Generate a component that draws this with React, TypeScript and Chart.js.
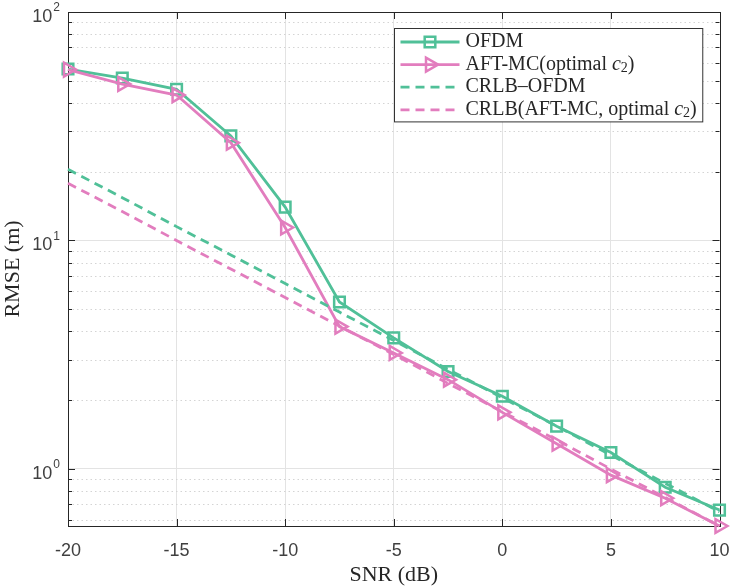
import { useEffect, useRef } from "react"
import Chart from "chart.js/auto"

// SNR (dB) sample points
const snr = [-20, -17.5, -15, -12.5, -10, -7.5, -5, -2.5, 0, 2.5, 5, 7.5, 10]

// RMSE (m)
const ofdm = [56.3, 51.4, 45.9, 28.7, 14.0, 5.38, 3.75, 2.67, 2.08, 1.54, 1.18, 0.832, 0.661]
const aftMc = [56.0, 48.4, 43.3, 26.8, 11.4, 4.2, 3.22, 2.46, 1.77, 1.29, 0.94, 0.745, 0.563]
const crlbOfdm = [20.5, 15.4, 11.5, 8.65, 6.48, 4.86, 3.65, 2.73, 2.05, 1.54, 1.15, 0.866, 0.65]
const crlbAftMc = [17.8, 13.4, 10.0, 7.5, 5.63, 4.22, 3.17, 2.37, 1.78, 1.34, 1.0, 0.75, 0.563]

const seriesLabels = ["OFDM", "AFT-MC(optimal c₂)", "CRLB–OFDM", "CRLB(AFT-MC, optimal c₂)"]

const xTicks = [-20, -15, -10, -5, 0, 5, 10]
const yMajor = [1, 10, 100]
const yMinor = [0.6, 0.7, 0.8, 0.9, 2, 3, 4, 5, 6, 7, 8, 9, 20, 30, 40, 50, 60, 70, 80, 90]
const yExponents = ["0", "1", "2"]

const GREEN = "rgb(80, 192, 152)"
const PINK = "rgb(226, 125, 190)"
const AXIS = "#262626"
const SANS = "'Liberation Sans', Arial, sans-serif"
const SERIF = "'Liberation Serif', 'Times New Roman', serif"

const pts = (ys: number[]) => snr.map((x, i) => ({ x, y: ys[i] }))

// draws "text" and renders c₂ as italic c with subscript 2
const drawLabel = (ctx: CanvasRenderingContext2D, text: string, x: number, y: number) => {
  const parts = text.split("c₂")
  let cx = x
  parts.forEach((p, i) => {
    ctx.font = `20px ${SERIF}`
    ctx.fillText(p, cx, y)
    cx += ctx.measureText(p).width
    if (i < parts.length - 1) {
      ctx.font = `italic 20px ${SERIF}`
      ctx.fillText("c", cx, y)
      cx += ctx.measureText("c").width
      ctx.font = `14px ${SERIF}`
      ctx.fillText("2", cx, y + 4)
      cx += ctx.measureText("2").width
    }
  })
  return cx - x
}

// legend marker, same geometry as chart.js rect / rotated triangle
const drawMarker = (ctx: CanvasRenderingContext2D, style: string, r: number, x: number, y: number) => {
  ctx.beginPath()
  if (style === "rect") {
    const s = r * Math.SQRT1_2
    ctx.rect(x - s, y - s, 2 * s, 2 * s)
  } else {
    let rad = Math.PI / 2
    ctx.moveTo(x + Math.sin(rad) * r, y - Math.cos(rad) * r)
    rad += (2 * Math.PI) / 3
    ctx.lineTo(x + Math.sin(rad) * r, y - Math.cos(rad) * r)
    rad += (2 * Math.PI) / 3
    ctx.lineTo(x + Math.sin(rad) * r, y - Math.cos(rad) * r)
    ctx.closePath()
  }
  ctx.stroke()
}

const axesPlugin = {
  id: "matlabAxes",
  beforeDatasetsDraw(chart: any) {
    const { ctx, chartArea: a, scales } = chart
    const ys = scales.y
    const xs = scales.x
    ctx.save()
    // minor dotted grid
    ctx.strokeStyle = "#d4d4d4"
    ctx.lineWidth = 1
    ctx.setLineDash([1.5, 3])
    yMinor.forEach((v) => {
      const py = Math.round(ys.getPixelForValue(v)) + 0.5
      ctx.beginPath()
      ctx.moveTo(a.left, py)
      ctx.lineTo(a.right, py)
      ctx.stroke()
    })
    ctx.setLineDash([])
    // box
    ctx.strokeStyle = AXIS
    ctx.lineWidth = 1
    ctx.strokeRect(Math.round(a.left) + 0.5, Math.round(a.top) + 0.5, Math.round(a.right - a.left), Math.round(a.bottom - a.top))
    // ticks
    ctx.beginPath()
    xTicks.forEach((v) => {
      const px = Math.round(xs.getPixelForValue(v)) + 0.5
      ctx.moveTo(px, a.bottom)
      ctx.lineTo(px, a.bottom - 7)
      ctx.moveTo(px, a.top)
      ctx.lineTo(px, a.top + 7)
    })
    yMajor.forEach((v) => {
      const py = Math.round(ys.getPixelForValue(v)) + 0.5
      ctx.moveTo(a.left, py)
      ctx.lineTo(a.left + 7, py)
      ctx.moveTo(a.right, py)
      ctx.lineTo(a.right - 7, py)
    })
    yMinor.forEach((v) => {
      const py = Math.round(ys.getPixelForValue(v)) + 0.5
      ctx.moveTo(a.left, py)
      ctx.lineTo(a.left + 4, py)
      ctx.moveTo(a.right, py)
      ctx.lineTo(a.right - 4, py)
    })
    ctx.stroke()
    // y tick labels 10^n
    ctx.fillStyle = "#404040"
    ctx.textBaseline = "middle"
    ctx.textAlign = "right"
    yMajor.forEach((v, i) => {
      const py = ys.getPixelForValue(v)
      const ex = yExponents[i]
      ctx.font = `12px ${SANS}`
      ctx.fillText(ex, a.left - 8, py - 4)
      const w = ctx.measureText(ex).width
      ctx.font = `18px ${SANS}`
      ctx.fillText("10", a.left - 9 - w, py + 5)
    })
    ctx.restore()
  },
  afterDraw(chart: any) {
    const { ctx, chartArea: a } = chart
    const ds = chart.data.datasets
    ctx.save()
    ctx.textBaseline = "middle"
    ctx.textAlign = "left"
    let maxW = 0
    ctx.globalAlpha = 0
    ds.forEach((d: any) => {
      maxW = Math.max(maxW, drawLabel(ctx, d.label, 0, -100))
    })
    ctx.globalAlpha = 1
    const boxW = 6 + 59 + 6 + maxW + 6
    const rowH = 22.6
    const boxH = rowH * ds.length + 3
    const bx = Math.round(a.right - 17 - boxW) + 0.5
    const by = Math.round(a.top + 16) + 0.5
    ctx.fillStyle = "#fff"
    ctx.fillRect(bx, by, boxW, boxH)
    ctx.strokeStyle = "#333"
    ctx.lineWidth = 1
    ctx.strokeRect(bx, by, boxW, boxH)
    ds.forEach((d: any, i: number) => {
      const cy = by + 13.5 + i * rowH
      const x0 = bx + 6
      const x1 = x0 + 59
      ctx.strokeStyle = d.borderColor
      ctx.lineWidth = d.borderWidth
      ctx.setLineDash(d.borderDash || [])
      ctx.beginPath()
      ctx.moveTo(x0, cy)
      ctx.lineTo(x1, cy)
      ctx.stroke()
      ctx.setLineDash([])
      if (d.pointRadius > 0) {
        ctx.lineWidth = d.pointBorderWidth
        drawMarker(ctx, d.pointStyle, d.pointRadius, (x0 + x1) / 2, cy)
      }
      ctx.fillStyle = AXIS
      drawLabel(ctx, d.label, x1 + 6, cy)
    })
    ctx.restore()
  },
}

const RmseChart = () => {
  const chartRef = useRef<HTMLCanvasElement>(null)
  const chartInstance = useRef<Chart | null>(null)

  useEffect(() => {
    document.body.style.margin = "0"
    if (!chartRef.current) return
    if (chartInstance.current) chartInstance.current.destroy()
    const ctx = chartRef.current.getContext("2d")
    if (!ctx) return

    const solid = (label: string, data: number[], color: string, style: string, rot: number, order: number) => ({
      label,
      data: pts(data),
      borderColor: color,
      backgroundColor: "rgba(0,0,0,0)",
      borderWidth: 2.8,
      pointStyle: style,
      pointRotation: rot,
      pointRadius: style === "rect" ? 7.5 : 8,
      pointBorderWidth: 2.5,
      pointBorderColor: color,
      pointBackgroundColor: "rgba(0,0,0,0)",
      tension: 0,
      clip: false as const,
      order,
    })
    const dashed = (label: string, data: number[], color: string, order: number) => ({
      label,
      data: pts(data),
      borderColor: color,
      backgroundColor: "rgba(0,0,0,0)",
      borderWidth: 2.8,
      borderDash: [9, 6],
      pointRadius: 0,
      tension: 0,
      clip: false as const,
      order,
    })

    chartInstance.current = new Chart(ctx, {
      type: "line",
      data: {
        datasets: [
          solid(seriesLabels[0], ofdm, GREEN, "rect", 0, 4),
          solid(seriesLabels[1], aftMc, PINK, "triangle", 90, 3),
          dashed(seriesLabels[2], crlbOfdm, GREEN, 2),
          dashed(seriesLabels[3], crlbAftMc, PINK, 1),
        ] as any,
      },
      options: {
        animation: false,
        responsive: true,
        maintainAspectRatio: false,
        layout: { padding: { top: 12, right: 10, left: 0, bottom: 0 } },
        plugins: {
          legend: { display: false },
          tooltip: { enabled: false },
        },
        scales: {
          x: {
            type: "linear",
            min: -20,
            max: 10,
            afterBuildTicks: (scale: any) => {
              scale.ticks = xTicks.map((v) => ({ value: v }))
            },
            afterFit: (scale: any) => {
              scale.height = 62
              scale.paddingLeft = 0
              scale.paddingRight = 0
            },
            ticks: {
              padding: 14,
              color: "#404040",
              font: { family: SANS, size: 18 },
              callback: (v: any) => String(v),
            },
            grid: {
              drawTicks: false,
              color: (c: any) => (c.tick && (c.tick.value === -20 || c.tick.value === 10) ? "rgba(0,0,0,0)" : "#e3e3e3"),
            },
            border: { display: false },
            title: {
              display: true,
              text: "SNR (dB)",
              color: AXIS,
              font: { family: SERIF, size: 22 },
              padding: { top: 0, bottom: 0 },
            },
          },
          y: {
            type: "logarithmic",
            min: 0.563,
            max: 100,
            afterBuildTicks: (scale: any) => {
              scale.ticks = yMajor.map((v) => ({ value: v, major: true }))
            },
            afterFit: (scale: any) => {
              scale.width = 68
              scale.paddingTop = 0
              scale.paddingBottom = 0
            },
            ticks: { display: false },
            grid: { drawTicks: false, color: "#e3e3e3" },
            border: { display: false },
            title: {
              display: true,
              text: "RMSE (m)",
              color: AXIS,
              font: { family: SERIF, size: 22 },
              padding: { top: 0, bottom: 0 },
            },
          },
        },
      },
      plugins: [axesPlugin],
    })

    return () => {
      if (chartInstance.current) {
        chartInstance.current.destroy()
        chartInstance.current = null
      }
    }
  }, [])

  return (
    <div style={{ width: 730, height: 588, position: "relative" }}>
      <canvas ref={chartRef} />
    </div>
  )
}

export default function App() {
  return <RmseChart />
}
